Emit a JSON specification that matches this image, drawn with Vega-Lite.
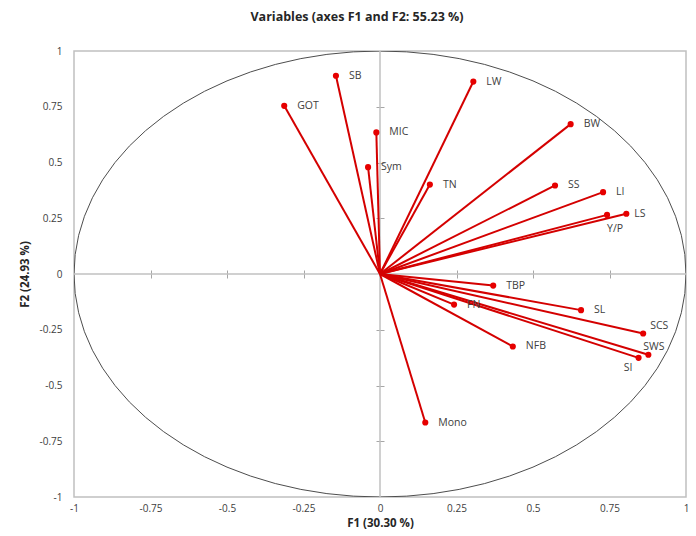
{
  "$schema": "https://vega.github.io/schema/vega-lite/v6.json",
  "width": 612,
  "height": 446,
  "autosize": {"type": "none"},
  "padding": {"left": 74, "top": 51, "right": 10, "bottom": 39},
  "background": "white",
  "title": {
    "text": "Variables (axes F1 and F2: 55.23 %)",
    "font": "Open Sans",
    "fontSize": 12.5,
    "fontWeight": "bold",
    "color": "#262626",
    "offset": 23,
    "dx": -23,
    "anchor": "middle"
  },
  "config": {
    "view": {"stroke": "#c0c0c0", "strokeWidth": 1.5},
    "axis": {"labelFont": "Open Sans", "titleFont": "Open Sans"}
  },
  "datasets": {
    "vars": [
      {"label": "SB", "x": -0.144, "y": 0.889},
      {"label": "GOT", "x": -0.313, "y": 0.754},
      {"label": "MIC", "x": -0.012, "y": 0.635},
      {"label": "Sym", "x": -0.039, "y": 0.479},
      {"label": "LW", "x": 0.305, "y": 0.863},
      {"label": "TN", "x": 0.163, "y": 0.401},
      {"label": "BW", "x": 0.623, "y": 0.672},
      {"label": "SS", "x": 0.572, "y": 0.397},
      {"label": "LI", "x": 0.729, "y": 0.367},
      {"label": "LS", "x": 0.805, "y": 0.270},
      {"label": "Y/P", "x": 0.742, "y": 0.265},
      {"label": "TBP", "x": 0.370, "y": -0.052},
      {"label": "FN", "x": 0.242, "y": -0.137},
      {"label": "SL", "x": 0.657, "y": -0.162},
      {"label": "SCS", "x": 0.860, "y": -0.267},
      {"label": "NFB", "x": 0.434, "y": -0.325},
      {"label": "SWS", "x": 0.877, "y": -0.362},
      {"label": "SI", "x": 0.845, "y": -0.376},
      {"label": "Mono", "x": 0.148, "y": -0.666}
    ],
    "circle": [
      {"a": 0, "cx": 1, "cy": 0},
      {"a": 5, "cx": 0.9962, "cy": 0.0872},
      {"a": 10, "cx": 0.9848, "cy": 0.1736},
      {"a": 15, "cx": 0.9659, "cy": 0.2588},
      {"a": 20, "cx": 0.9397, "cy": 0.342},
      {"a": 25, "cx": 0.9063, "cy": 0.4226},
      {"a": 30, "cx": 0.866, "cy": 0.5},
      {"a": 35, "cx": 0.8192, "cy": 0.5736},
      {"a": 40, "cx": 0.766, "cy": 0.6428},
      {"a": 45, "cx": 0.7071, "cy": 0.7071},
      {"a": 50, "cx": 0.6428, "cy": 0.766},
      {"a": 55, "cx": 0.5736, "cy": 0.8192},
      {"a": 60, "cx": 0.5, "cy": 0.866},
      {"a": 65, "cx": 0.4226, "cy": 0.9063},
      {"a": 70, "cx": 0.342, "cy": 0.9397},
      {"a": 75, "cx": 0.2588, "cy": 0.9659},
      {"a": 80, "cx": 0.1736, "cy": 0.9848},
      {"a": 85, "cx": 0.0872, "cy": 0.9962},
      {"a": 90, "cx": 0, "cy": 1},
      {"a": 95, "cx": -0.0872, "cy": 0.9962},
      {"a": 100, "cx": -0.1736, "cy": 0.9848},
      {"a": 105, "cx": -0.2588, "cy": 0.9659},
      {"a": 110, "cx": -0.342, "cy": 0.9397},
      {"a": 115, "cx": -0.4226, "cy": 0.9063},
      {"a": 120, "cx": -0.5, "cy": 0.866},
      {"a": 125, "cx": -0.5736, "cy": 0.8192},
      {"a": 130, "cx": -0.6428, "cy": 0.766},
      {"a": 135, "cx": -0.7071, "cy": 0.7071},
      {"a": 140, "cx": -0.766, "cy": 0.6428},
      {"a": 145, "cx": -0.8192, "cy": 0.5736},
      {"a": 150, "cx": -0.866, "cy": 0.5},
      {"a": 155, "cx": -0.9063, "cy": 0.4226},
      {"a": 160, "cx": -0.9397, "cy": 0.342},
      {"a": 165, "cx": -0.9659, "cy": 0.2588},
      {"a": 170, "cx": -0.9848, "cy": 0.1736},
      {"a": 175, "cx": -0.9962, "cy": 0.0872},
      {"a": 180, "cx": -1, "cy": 0},
      {"a": 185, "cx": -0.9962, "cy": -0.0872},
      {"a": 190, "cx": -0.9848, "cy": -0.1736},
      {"a": 195, "cx": -0.9659, "cy": -0.2588},
      {"a": 200, "cx": -0.9397, "cy": -0.342},
      {"a": 205, "cx": -0.9063, "cy": -0.4226},
      {"a": 210, "cx": -0.866, "cy": -0.5},
      {"a": 215, "cx": -0.8192, "cy": -0.5736},
      {"a": 220, "cx": -0.766, "cy": -0.6428},
      {"a": 225, "cx": -0.7071, "cy": -0.7071},
      {"a": 230, "cx": -0.6428, "cy": -0.766},
      {"a": 235, "cx": -0.5736, "cy": -0.8192},
      {"a": 240, "cx": -0.5, "cy": -0.866},
      {"a": 245, "cx": -0.4226, "cy": -0.9063},
      {"a": 250, "cx": -0.342, "cy": -0.9397},
      {"a": 255, "cx": -0.2588, "cy": -0.9659},
      {"a": 260, "cx": -0.1736, "cy": -0.9848},
      {"a": 265, "cx": -0.0872, "cy": -0.9962},
      {"a": 270, "cx": 0, "cy": -1},
      {"a": 275, "cx": 0.0872, "cy": -0.9962},
      {"a": 280, "cx": 0.1736, "cy": -0.9848},
      {"a": 285, "cx": 0.2588, "cy": -0.9659},
      {"a": 290, "cx": 0.342, "cy": -0.9397},
      {"a": 295, "cx": 0.4226, "cy": -0.9063},
      {"a": 300, "cx": 0.5, "cy": -0.866},
      {"a": 305, "cx": 0.5736, "cy": -0.8192},
      {"a": 310, "cx": 0.6428, "cy": -0.766},
      {"a": 315, "cx": 0.7071, "cy": -0.7071},
      {"a": 320, "cx": 0.766, "cy": -0.6428},
      {"a": 325, "cx": 0.8192, "cy": -0.5736},
      {"a": 330, "cx": 0.866, "cy": -0.5},
      {"a": 335, "cx": 0.9063, "cy": -0.4226},
      {"a": 340, "cx": 0.9397, "cy": -0.342},
      {"a": 345, "cx": 0.9659, "cy": -0.2588},
      {"a": 350, "cx": 0.9848, "cy": -0.1736},
      {"a": 355, "cx": 0.9962, "cy": -0.0872},
      {"a": 360, "cx": 1, "cy": 0}
    ]
  },
  "resolve": {"axis": {"x": "independent", "y": "independent"}},
  "layer": [
    {
      "data": {"name": "circle"},
      "mark": {"type": "line", "color": "#4d4d4d", "strokeWidth": 1, "clip": true},
      "encoding": {
        "x": {
          "field": "cx", "type": "quantitative",
          "scale": {"domain": [-1, 1], "nice": false, "zero": false},
          "axis": {
            "title": "F1 (30.30 %)",
            "values": [-1, -0.75, -0.5, -0.25, 0, 0.25, 0.5, 0.75, 1],
            "labelExpr": "datum.value + ''",
            "grid": false, "domain": false, "ticks": false, "tickSize": 0,
            "labelPadding": 6, "labelFontSize": 10, "labelColor": "#404040",
            "labelFlush": false,
            "titleFontSize": 11.5, "titleFontWeight": "bold", "titleColor": "#262626",
            "titlePadding": 4
          }
        },
        "y": {
          "field": "cy", "type": "quantitative",
          "scale": {"domain": [-1, 1], "nice": false, "zero": false},
          "axis": {
            "title": "F2 (24.93 %)",
            "values": [-1, -0.75, -0.5, -0.25, 0, 0.25, 0.5, 0.75, 1],
            "labelExpr": "datum.value + ''",
            "grid": false, "domain": false, "ticks": false, "tickSize": 0,
            "labelPadding": 12, "labelFontSize": 10, "labelColor": "#404040",
            "labelFlush": false,
            "titleFontSize": 11.5, "titleFontWeight": "bold", "titleColor": "#262626",
            "titlePadding": 9
          }
        },
        "order": {"field": "a", "type": "quantitative"}
      }
    },
    {
      "data": {"values": [{}]},
      "mark": {"type": "rule", "color": "#c0c0c0", "strokeWidth": 1.5},
      "encoding": {
        "x": {
          "datum": -1, "type": "quantitative",
          "axis": {
            "orient": "bottom", "offset": -227,
            "values": [-0.75, -0.5, -0.25, 0.25, 0.5, 0.75],
            "labels": false, "domain": false, "grid": false, "title": null,
            "ticks": true, "tickSize": 8, "tickColor": "#a6a6a6", "tickWidth": 1
          }
        },
        "x2": {"datum": 1},
        "y": {"datum": 0, "type": "quantitative", "axis": null}
      }
    },
    {
      "data": {"values": [{}]},
      "mark": {"type": "rule", "color": "#c0c0c0", "strokeWidth": 1.5},
      "encoding": {
        "y": {
          "datum": -1, "type": "quantitative",
          "axis": {
            "orient": "left", "offset": -310,
            "values": [-0.75, -0.5, -0.25, 0.25, 0.5, 0.75],
            "labels": false, "domain": false, "grid": false, "title": null,
            "ticks": true, "tickSize": 8, "tickColor": "#a6a6a6", "tickWidth": 1
          }
        },
        "y2": {"datum": 1},
        "x": {"datum": 0, "type": "quantitative", "axis": null}
      }
    },
    {
      "data": {"name": "vars"},
      "mark": {"type": "rule", "color": "#d40000", "strokeWidth": 2},
      "encoding": {
        "x": {"field": "x", "type": "quantitative", "axis": null},
        "y": {"field": "y", "type": "quantitative", "axis": null},
        "x2": {"datum": 0},
        "y2": {"datum": 0}
      }
    },
    {
      "data": {"name": "vars"},
      "mark": {"type": "point", "filled": true, "color": "#e60000", "size": 38, "opacity": 1},
      "encoding": {
        "x": {"field": "x", "type": "quantitative", "axis": null},
        "y": {"field": "y", "type": "quantitative", "axis": null}
      }
    },
    {
      "data": {"name": "vars"},
      "transform": [{"filter": {"field": "label", "oneOf": ["SB", "GOT", "MIC", "Sym", "LW", "TN", "BW", "SS", "LI", "TBP", "FN", "SL", "NFB", "Mono"]}}],
      "mark": {"type": "text", "align": "left", "baseline": "middle", "dx": 13, "font": "Open Sans", "fontSize": 10.5, "color": "#404040"},
      "encoding": {
        "x": {"field": "x", "type": "quantitative", "axis": null},
        "y": {"field": "y", "type": "quantitative", "axis": null},
        "text": {"field": "label"}
      }
    },
    {
      "data": {"name": "vars"},
      "transform": [{"filter": {"field": "label", "oneOf": ["LS"]}}],
      "mark": {"type": "text", "align": "left", "baseline": "middle", "dx": 8, "font": "Open Sans", "fontSize": 10.5, "color": "#404040"},
      "encoding": {
        "x": {"field": "x", "type": "quantitative", "axis": null},
        "y": {"field": "y", "type": "quantitative", "axis": null},
        "text": {"field": "label"}
      }
    },
    {
      "data": {"name": "vars"},
      "transform": [{"filter": {"field": "label", "oneOf": ["SCS"]}}],
      "mark": {"type": "text", "align": "left", "baseline": "middle", "dx": 7, "dy": -8, "font": "Open Sans", "fontSize": 10.5, "color": "#404040"},
      "encoding": {
        "x": {"field": "x", "type": "quantitative", "axis": null},
        "y": {"field": "y", "type": "quantitative", "axis": null},
        "text": {"field": "label"}
      }
    },
    {
      "data": {"name": "vars"},
      "transform": [{"filter": {"field": "label", "oneOf": ["SWS"]}}],
      "mark": {"type": "text", "align": "left", "baseline": "middle", "dx": -5, "dy": -8, "font": "Open Sans", "fontSize": 10.5, "color": "#404040"},
      "encoding": {
        "x": {"field": "x", "type": "quantitative", "axis": null},
        "y": {"field": "y", "type": "quantitative", "axis": null},
        "text": {"field": "label"}
      }
    },
    {
      "data": {"name": "vars"},
      "transform": [{"filter": {"field": "label", "oneOf": ["Y/P"]}}],
      "mark": {"type": "text", "align": "left", "baseline": "middle", "dx": 0, "dy": 14, "font": "Open Sans", "fontSize": 10.5, "color": "#404040"},
      "encoding": {
        "x": {"field": "x", "type": "quantitative", "axis": null},
        "y": {"field": "y", "type": "quantitative", "axis": null},
        "text": {"field": "label"}
      }
    },
    {
      "data": {"name": "vars"},
      "transform": [{"filter": {"field": "label", "oneOf": ["SI"]}}],
      "mark": {"type": "text", "align": "right", "baseline": "middle", "dx": -6, "dy": 10, "font": "Open Sans", "fontSize": 10.5, "color": "#404040"},
      "encoding": {
        "x": {"field": "x", "type": "quantitative", "axis": null},
        "y": {"field": "y", "type": "quantitative", "axis": null},
        "text": {"field": "label"}
      }
    }
  ]
}
